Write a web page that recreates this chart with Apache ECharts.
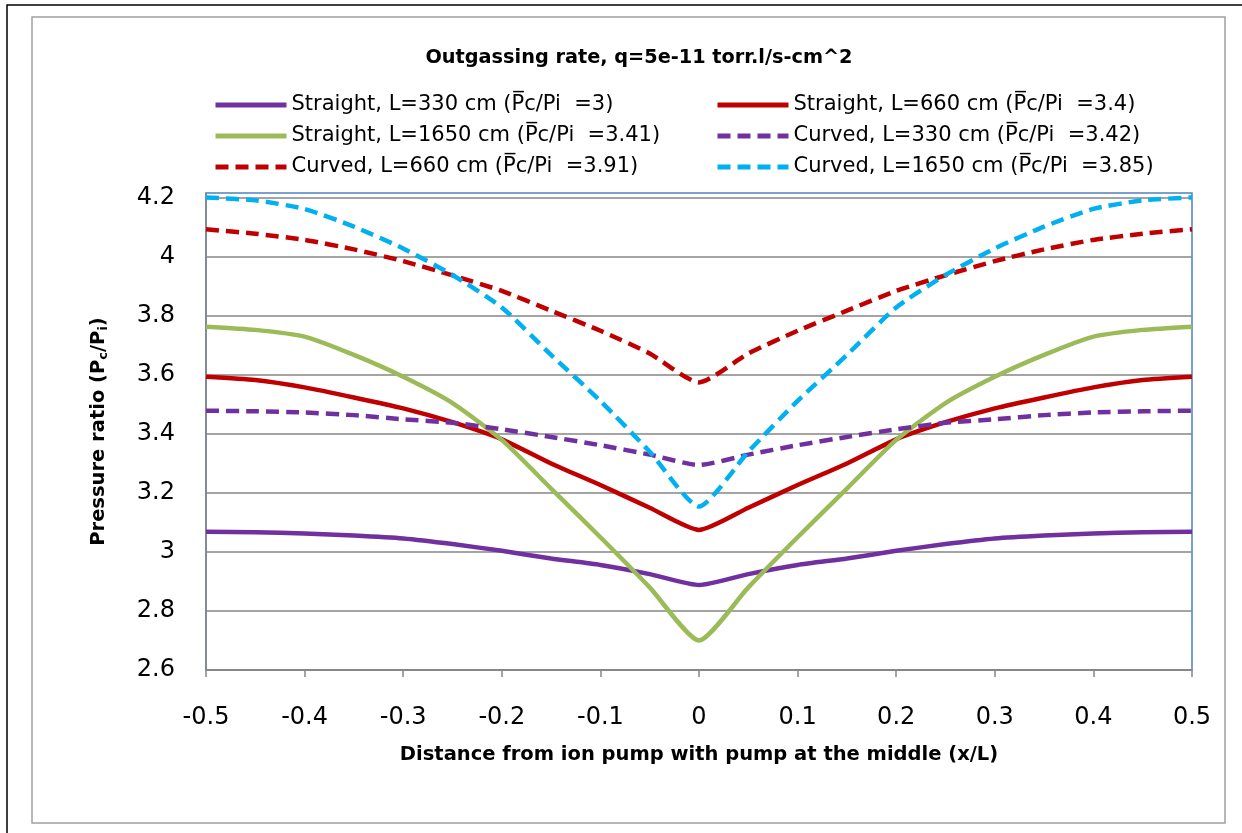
<!DOCTYPE html>
<html>
<head>
<meta charset="utf-8">
<script src="https://cdn.jsdelivr.net/npm/echarts@6/dist/echarts.min.js"></script>
<style>html,body{margin:0;padding:0;background:#fff;}#c{width:1242px;height:833px;}</style>
</head>
<body>
<div id="c"></div>
<script>
const xValues = [-0.5,-0.45,-0.4,-0.35,-0.3,-0.25,-0.2,-0.15,-0.1,-0.05,0,0.05,0.1,0.15,0.2,0.25,0.3,0.35,0.4,0.45,0.5];
const straight330 = [3.069,3.067,3.063,3.056,3.046,3.027,3.004,2.978,2.956,2.925,2.888,2.925,2.956,2.978,3.004,3.027,3.046,3.056,3.063,3.067,3.069];
const straight660 = [3.594,3.583,3.558,3.524,3.487,3.440,3.382,3.300,3.227,3.150,3.075,3.150,3.227,3.300,3.382,3.440,3.487,3.524,3.558,3.583,3.594];
const straight1650 = [3.764,3.753,3.730,3.668,3.594,3.505,3.380,3.215,3.050,2.880,2.700,2.880,3.050,3.215,3.380,3.505,3.594,3.668,3.730,3.753,3.764];
const curved330 = [3.479,3.477,3.473,3.464,3.450,3.438,3.416,3.390,3.362,3.330,3.295,3.330,3.362,3.390,3.416,3.438,3.450,3.464,3.473,3.477,3.479];
const curved660 = [4.094,4.079,4.058,4.026,3.986,3.938,3.885,3.818,3.750,3.673,3.575,3.673,3.750,3.818,3.885,3.938,3.986,4.026,4.058,4.079,4.094];
const curved1650 = [4.202,4.192,4.163,4.103,4.029,3.939,3.829,3.668,3.512,3.340,3.154,3.340,3.512,3.668,3.829,3.939,4.029,4.103,4.163,4.192,4.202];
const seriesNames = [
  'Straight, L=330 cm (P\u0305c/Pi  =3)',
  'Straight, L=660 cm (P\u0305c/Pi  =3.4)',
  'Straight, L=1650 cm (P\u0305c/Pi  =3.41)',
  'Curved, L=330 cm (P\u0305c/Pi  =3.42)',
  'Curved, L=660 cm (P\u0305c/Pi  =3.91)',
  'Curved, L=1650 cm (P\u0305c/Pi  =3.85)'
];
const titleText = 'Outgassing rate, q=5e-11 torr.l/s-cm^2';
const xAxisTitle = 'Distance from ion pump with pump at the middle (x/L)';

const FONT = '"DejaVu Sans", "Open Sans", sans-serif';
const seriesData = [straight330, straight660, straight1650, curved330, curved660, curved1650];
const colors = ['#7030A0', '#C00000', '#9BBB59', '#7030A0', '#C00000', '#00B0F0'];
const dashed = [false, false, false, true, true, true];

const series = seriesData.map((arr, i) => ({
  name: seriesNames[i],
  type: 'line',
  data: xValues.map((x, j) => [x, arr[j]]),
  smooth: 0.2,
  symbol: 'none',
  color: colors[i],
  itemStyle: {color: colors[i]},
  lineStyle: {
    color: colors[i],
    width: 4.5,
    type: dashed[i] ? [13, 7] : 'solid',
    cap: 'butt'
  },
  z: 3 + i
}));

const chart = echarts.init(document.getElementById('c'), null, {renderer: 'canvas'});
const legendCommon = {
  orient: 'vertical',
  padding: 0,
  itemWidth: 71,
  itemHeight: 14,
  itemGap: 7,
  itemStyle: {opacity: 0},
  lineStyle: {width: 5},
  textStyle: {fontFamily: FONT, fontSize: 21, color: '#000', lineHeight: 24},
  selectedMode: false
};
chart.setOption({
  animation: false,
  backgroundColor: '#fff',
  title: {
    text: titleText,
    left: 634,
    top: 43,
    textAlign: 'center',
    textStyle: {fontFamily: FONT, fontSize: 19.3, fontWeight: 'bold', color: '#000'}
  },
  legend: [
    Object.assign({}, legendCommon, {left: 213, top: 93, data: [seriesNames[0], seriesNames[2], seriesNames[4]]}),
    Object.assign({}, legendCommon, {left: 715, top: 93, data: [seriesNames[1], seriesNames[3], seriesNames[5]]})
  ],
  graphic: [
    {type: 'rect', shape: {x: 7, y: 5, width: 1260, height: 850}, style: {fill: 'none', stroke: '#000', lineWidth: 1.5}, silent: true, z: 100},
    {type: 'rect', shape: {x: 32, y: 17, width: 1193, height: 806}, style: {fill: 'none', stroke: '#a0a0a0', lineWidth: 1.5}, silent: true, z: 100}
  ],
  grid: {
    left: 206, right: 50, top: 193, bottom: 163,
    show: true, borderColor: '#4F81BD', borderWidth: 1.5, backgroundColor: 'transparent'
  },
  xAxis: {
    type: 'value',
    min: -0.5, max: 0.5, interval: 0.1,
    name: xAxisTitle,
    nameLocation: 'middle',
    nameGap: 75,
    nameTextStyle: {fontFamily: FONT, fontSize: 19.5, fontWeight: 'bold', color: '#000'},
    axisLine: {show: true, onZero: false, lineStyle: {color: '#868686', width: 1.5}},
    axisTick: {show: true, inside: false, length: 7, lineStyle: {color: '#868686', width: 1.5}},
    axisLabel: {
      margin: 36,
      fontFamily: FONT, fontSize: 24, color: '#000',
      formatter: v => String(parseFloat(v.toFixed(1)))
    },
    splitLine: {show: false}
  },
  yAxis: {
    type: 'value',
    min: 2.6, max: 4.217, interval: 0.2,
    name: '{b|Pressure ratio (P}{s|c}{b|/P}{s|i}{b|)}',
    nameLocation: 'middle',
    nameRotate: 90,
    nameGap: 96,
    nameTextStyle: {
      rich: {
        b: {fontFamily: FONT, fontSize: 19.5, fontWeight: 'bold', color: '#000', lineHeight: 23},
        s: {fontFamily: FONT, fontSize: 13, fontWeight: 'bold', color: '#000', verticalAlign: 'bottom', lineHeight: 13}
      }
    },
    axisLine: {show: true, onZero: false, lineStyle: {color: '#868686', width: 1.5}},
    axisTick: {show: false},
    axisLabel: {
      margin: 31,
      fontFamily: FONT, fontSize: 24, color: '#000',
      formatter: v => {
        const k = Math.round((v - 2.6) / 0.2);
        if (Math.abs(2.6 + k * 0.2 - v) > 1e-6) return '';
        return String(parseFloat(v.toFixed(1)));
      }
    },
    splitLine: {show: true, showMaxLine: false, lineStyle: {color: '#868686', width: 1.5}}
  },
  series: series
});
</script>
</body>
</html>
